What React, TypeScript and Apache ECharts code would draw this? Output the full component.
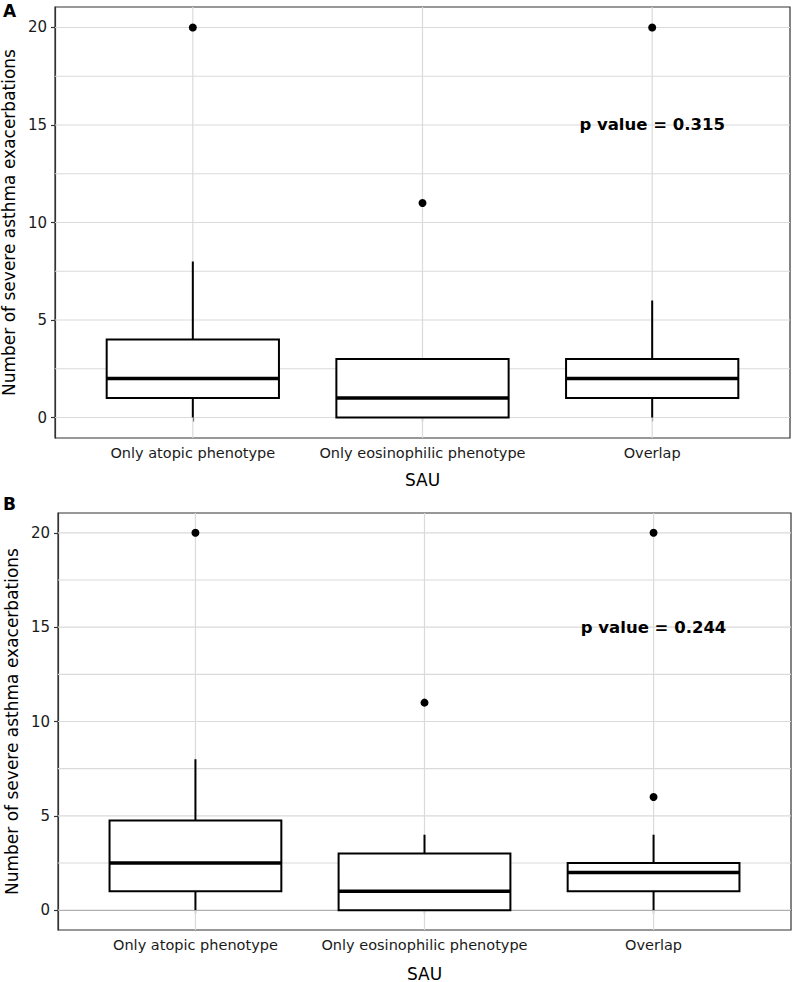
import React, { useEffect, useRef } from "react";
import * as echarts from "echarts";

const categories = ["Only atopic phenotype", "Only eosinophilic phenotype", "Overlap"];
const categoryPositions = [1, 2, 3];
// [lower whisker, Q1, median, Q3, upper whisker]
const boxStatsA = [
  [0, 1, 2, 4, 8],
  [0, 0, 1, 3, 3],
  [0, 1, 2, 3, 6],
];
const outliersA = [
  [1, 20],
  [2, 11],
  [3, 20],
];
const boxStatsB = [
  [0, 1, 2.5, 4.75, 8],
  [0, 0, 1, 3, 4],
  [0, 1, 2, 2.5, 4],
];
const outliersB = [
  [1, 20],
  [2, 11],
  [3, 6],
  [3, 20],
];
const yTicks = [0, 5, 10, 15, 20];
const yGridLines = [0, 2.5, 5, 7.5, 10, 12.5, 15, 17.5, 20];
const pValueA = "p value = 0.315";
const pValueB = "p value = 0.244";
const pValuePos = [3, 15];
const yRange = [-1.05, 21.05];
const xRange = [0.4, 3.6];
const panelLabels = ["A", "B"];
const yTitle = "Number of severe asthma exacerbations";
const xTitle = "SAU";

const FONT = "DejaVu Sans";
const BOX_WIDTH = 0.75;
const GRID_COLOR = "#dadada";

function buildPanel(idx: number, boxStats: number[][], outliers: number[][], pText: string, xNameGap: number) {
  const xAxis = {
    gridIndex: idx,
    type: "value",
    min: xRange[0],
    max: xRange[1],
    name: xTitle,
    nameLocation: "middle",
    nameGap: xNameGap,
    nameTextStyle: { fontFamily: FONT, fontSize: 17, color: "#000" },
    axisLine: { show: true, lineStyle: { color: "#333", width: 1.2 } },
    axisTick: { show: true, length: 4, customValues: categoryPositions, lineStyle: { color: "#333", width: 1.2 } },
    axisLabel: {
      customValues: categoryPositions,
      margin: 7,
      fontFamily: FONT,
      fontSize: 14.5,
      color: "#1a1a1a",
      formatter: (v: number) => categories[Math.round(v) - 1] ?? "",
    },
    splitLine: { show: false },
  };
  const yAxis = {
    gridIndex: idx,
    type: "value",
    min: yRange[0],
    max: yRange[1],
    name: yTitle,
    nameLocation: "middle",
    nameGap: 38,
    nameTextStyle: { fontFamily: FONT, fontSize: 17, color: "#000" },
    axisLine: { show: true, lineStyle: { color: "#333", width: 1.2 } },
    axisTick: { show: true, length: 4, customValues: yTicks, lineStyle: { color: "#333", width: 1.2 } },
    axisLabel: {
      customValues: yTicks,
      margin: 8,
      fontFamily: FONT,
      fontSize: 15,
      color: "#1a1a1a",
    },
    splitLine: { show: false },
  };
  const series: any[] = [
    {
      type: "custom",
      xAxisIndex: idx,
      yAxisIndex: idx,
      silent: true,
      z: 1,
      data: yGridLines.map((v) => [xRange[0], v]),
      encode: { x: 0, y: 1 },
      renderItem: (params: any, api: any) => {
        const cs = params.coordSys;
        const y = api.coord([api.value(0), api.value(1)])[1];
        return {
          type: "line",
          shape: { x1: cs.x, y1: y, x2: cs.x + cs.width, y2: y },
          style: { stroke: GRID_COLOR, lineWidth: 1.2 },
        };
      },
    },
    {
      type: "custom",
      xAxisIndex: idx,
      yAxisIndex: idx,
      silent: true,
      z: 1,
      data: categoryPositions.map((x) => [x, yRange[0]]),
      encode: { x: 0, y: 1 },
      renderItem: (params: any, api: any) => {
        const cs = params.coordSys;
        const x = api.coord([api.value(0), api.value(1)])[0];
        return {
          type: "line",
          shape: { x1: x, y1: cs.y, x2: x, y2: cs.y + cs.height },
          style: { stroke: GRID_COLOR, lineWidth: 1.2 },
        };
      },
    },
    {
      type: "custom",
      xAxisIndex: idx,
      yAxisIndex: idx,
      silent: true,
      z: 3,
      data: boxStats.map((s, i) => [categoryPositions[i], ...s]),
      encode: { x: 0, y: [1, 2, 3, 4, 5] },
      renderItem: (_params: any, api: any) => {
        const x = api.value(0);
        const low = api.value(1);
        const q1 = api.value(2);
        const med = api.value(3);
        const q3 = api.value(4);
        const high = api.value(5);
        const hw = BOX_WIDTH / 2;
        const lt = api.coord([x - hw, q3]);
        const rb = api.coord([x + hw, q1]);
        const pm = api.coord([x, med]);
        const pLow = api.coord([x, low]);
        const pHigh = api.coord([x, high]);
        const pQ1 = api.coord([x, q1]);
        const pQ3 = api.coord([x, q3]);
        const children: any[] = [];
        if (high > q3)
          children.push({
            type: "line",
            shape: { x1: pQ3[0], y1: pQ3[1], x2: pHigh[0], y2: pHigh[1] },
            style: { stroke: "#000", lineWidth: 2 },
          });
        if (low < q1)
          children.push({
            type: "line",
            shape: { x1: pQ1[0], y1: pQ1[1], x2: pLow[0], y2: pLow[1] },
            style: { stroke: "#000", lineWidth: 2 },
          });
        children.push({
          type: "rect",
          shape: { x: lt[0], y: lt[1], width: rb[0] - lt[0], height: rb[1] - lt[1] },
          style: { fill: "#fff", stroke: "#000", lineWidth: 2 },
        });
        children.push({
          type: "line",
          shape: { x1: lt[0], y1: pm[1], x2: rb[0], y2: pm[1] },
          style: { stroke: "#000", lineWidth: 3.5 },
        });
        return { type: "group", children };
      },
    },
    {
      type: "scatter",
      xAxisIndex: idx,
      yAxisIndex: idx,
      silent: true,
      z: 4,
      symbol: "circle",
      symbolSize: 8,
      itemStyle: { color: "#000", opacity: 1 },
      data: outliers,
    },
    {
      type: "custom",
      xAxisIndex: idx,
      yAxisIndex: idx,
      silent: true,
      z: 5,
      data: [[pValuePos[0], pValuePos[1]]],
      encode: { x: 0, y: 1 },
      renderItem: (_params: any, api: any) => {
        const p = api.coord([api.value(0), api.value(1)]);
        return {
          type: "text",
          x: p[0],
          y: p[1],
          style: {
            text: pText,
            fontFamily: FONT,
            fontWeight: "bold",
            fontSize: 16.5,
            fill: "#000",
            align: "center",
            verticalAlign: "middle",
          },
        };
      },
    },
  ];
  return { xAxis, yAxis, series };
}

export default function App() {
  const ref = useRef<HTMLDivElement>(null);
  useEffect(() => {
    if (!ref.current) return;
    const chart = echarts.init(ref.current, undefined, { renderer: "svg" });
    const a = buildPanel(0, boxStatsA, outliersA, pValueA, 33);
    const b = buildPanel(1, boxStatsB, outliersB, pValueB, 35);
    chart.setOption({
      animation: false,
      backgroundColor: "#fff",
      grid: [
        { left: 55, right: 7, top: 7, bottom: 544, containLabel: false, outerBoundsMode: "none", show: true, borderColor: "#333", borderWidth: 1.2, backgroundColor: "transparent" },
        { left: 58, right: 6, top: 513, bottom: 52, containLabel: false, outerBoundsMode: "none", show: true, borderColor: "#333", borderWidth: 1.2, backgroundColor: "transparent" },
      ],
      xAxis: [a.xAxis, b.xAxis],
      yAxis: [a.yAxis, b.yAxis],
      series: [...a.series, ...b.series],
      graphic: [
        { type: "text", left: 3, top: 2, style: { text: panelLabels[0], fontFamily: FONT, fontWeight: "bold", fontSize: 17, fill: "#000" } },
        { type: "text", left: 3, top: 495, style: { text: panelLabels[1], fontFamily: FONT, fontWeight: "bold", fontSize: 17, fill: "#000" } },
      ],
    });
    return () => chart.dispose();
  }, []);
  return <div ref={ref} style={{ position: "absolute", left: 0, top: 0, width: 797, height: 982 }} />;
}
